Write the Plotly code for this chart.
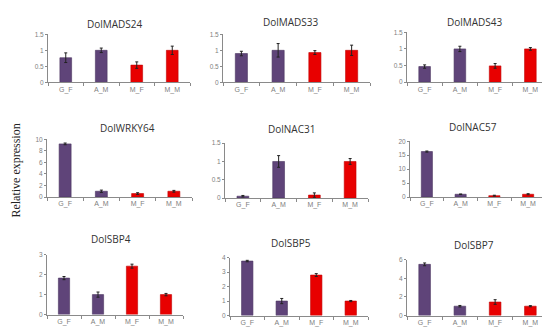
import plotly.graph_objects as go

W, H = 550, 334

categories = ["G_F", "A_M", "M_F", "M_M"]
genes = ["DolMADS24", "DolMADS33", "DolMADS43",
         "DolWRKY64", "DolNAC31", "DolNAC57",
         "DolSBP4", "DolSBP5", "DolSBP7"]

mads24 = [0.77, 1.0, 0.54, 1.0]
mads24_err = [0.15, 0.07, 0.10, 0.13]
mads33 = [0.90, 1.0, 0.93, 1.0]
mads33_err = [0.07, 0.21, 0.06, 0.16]
mads43 = [0.47, 1.0, 0.49, 1.0]
mads43_err = [0.05, 0.08, 0.07, 0.04]
wrky64 = [9.2, 1.0, 0.6, 1.0]
wrky64_err = [0.15, 0.2, 0.15, 0.15]
nac31 = [0.05, 1.0, 0.08, 1.0]
nac31_err = [0.02, 0.16, 0.06, 0.08]
nac57 = [16.3, 1.0, 0.5, 1.0]
nac57_err = [0.2, 0.1, 0.15, 0.2]
sbp4 = [1.83, 1.0, 2.43, 1.0]
sbp4_err = [0.08, 0.13, 0.10, 0.06]
sbp5 = [3.77, 1.0, 2.80, 1.0]
sbp5_err = [0.05, 0.18, 0.10, 0.04]
sbp7 = [5.5, 1.0, 1.45, 1.0]
sbp7_err = [0.15, 0.08, 0.25, 0.06]

values = [mads24, mads33, mads43, wrky64, nac31, nac57, sbp4, sbp5, sbp7]
errors = [mads24_err, mads33_err, mads43_err, wrky64_err, nac31_err,
          nac57_err, sbp4_err, sbp5_err, sbp7_err]
ymax = [1.5, 1.5, 1.5, 10, 1.5, 20, 3, 4, 6]
dticks = [0.5, 0.5, 0.5, 2, 0.5, 5, 1, 1, 2]

# panel geometry in pixels: x0, x1, ybottom, ytop
boxes = [(40, 182, 72, 22.7), (215, 362, 72, 22.7), (399, 540, 71.7, 20.7),
         (39, 184, 189, 130), (217, 360, 190, 134), (402, 537, 189, 132),
         (39, 175, 309, 248), (222, 360, 310, 251), (399, 540, 310, 253)]
title_pos = [(107, 12), (283, 10), (467, 10),
             (119, 118), (283, 119), (465, 117),
             (103, 232), (283, 236), (466, 238)]

PURPLE = "#5f4479"
RED = "#e80000"
colors = [PURPLE, PURPLE, RED, RED]
outlines = ["#4a3460", "#4a3460", "#c00000", "#c00000"]

fig = go.Figure()
annotations = []
for i in range(9):
    n = "" if i == 0 else str(i + 1)
    fig.add_trace(go.Bar(
        x=categories, y=values[i],
        marker=dict(color=colors, line=dict(color=outlines, width=0.6)),
        width=0.33,
        error_y=dict(type="data", array=errors[i], color="#222222",
                     thickness=1, width=1.5),
        xaxis="x" + n, yaxis="y" + n, showlegend=False,
    ))
    x0, x1, yb, yt = boxes[i]
    ax = dict(domain=[x0 / W, x1 / W], anchor="y" + n,
              showline=True, linecolor="#8a8a8a", linewidth=1,
              ticks="outside", tickson="boundaries", ticklen=3,
              tickcolor="#8a8a8a", showgrid=False, zeroline=False,
              tickfont=dict(family="Liberation Sans", size=7, color="#808080"),
              range=[-0.5, 3.5], type="category")
    ay = dict(domain=[1 - yb / H, 1 - yt / H], anchor="x" + n,
              range=[0, ymax[i]], dtick=dticks[i],
              showline=True, linecolor="#8a8a8a", linewidth=1,
              ticks="outside", ticklen=2, tickcolor="#8a8a8a",
              showgrid=False, zeroline=False,
              tickfont=dict(family="Liberation Sans", size=6.5, color="#808080"))
    fig.layout["xaxis" + n] = ax
    fig.layout["yaxis" + n] = ay
    tx, ty = title_pos[i]
    annotations.append(dict(text=genes[i], x=tx / W, y=1 - ty / H,
                            xref="paper", yref="paper", showarrow=False,
                            xanchor="center", yanchor="middle",
                            font=dict(family="Open Sans", size=10, color="#333333")))

annotations.append(dict(text="Relative expression", x=8 / W, y=1 - 162 / H,
                        xref="paper", yref="paper", showarrow=False,
                        textangle=-90, xanchor="center", yanchor="middle",
                        font=dict(family="Liberation Serif", size=12, color="#222222")))

fig.update_layout(width=W, height=H, margin=dict(l=0, r=0, t=0, b=0),
                  paper_bgcolor="white", plot_bgcolor="white",
                  annotations=annotations, bargap=0.6)

fig.write_html("out.html")
